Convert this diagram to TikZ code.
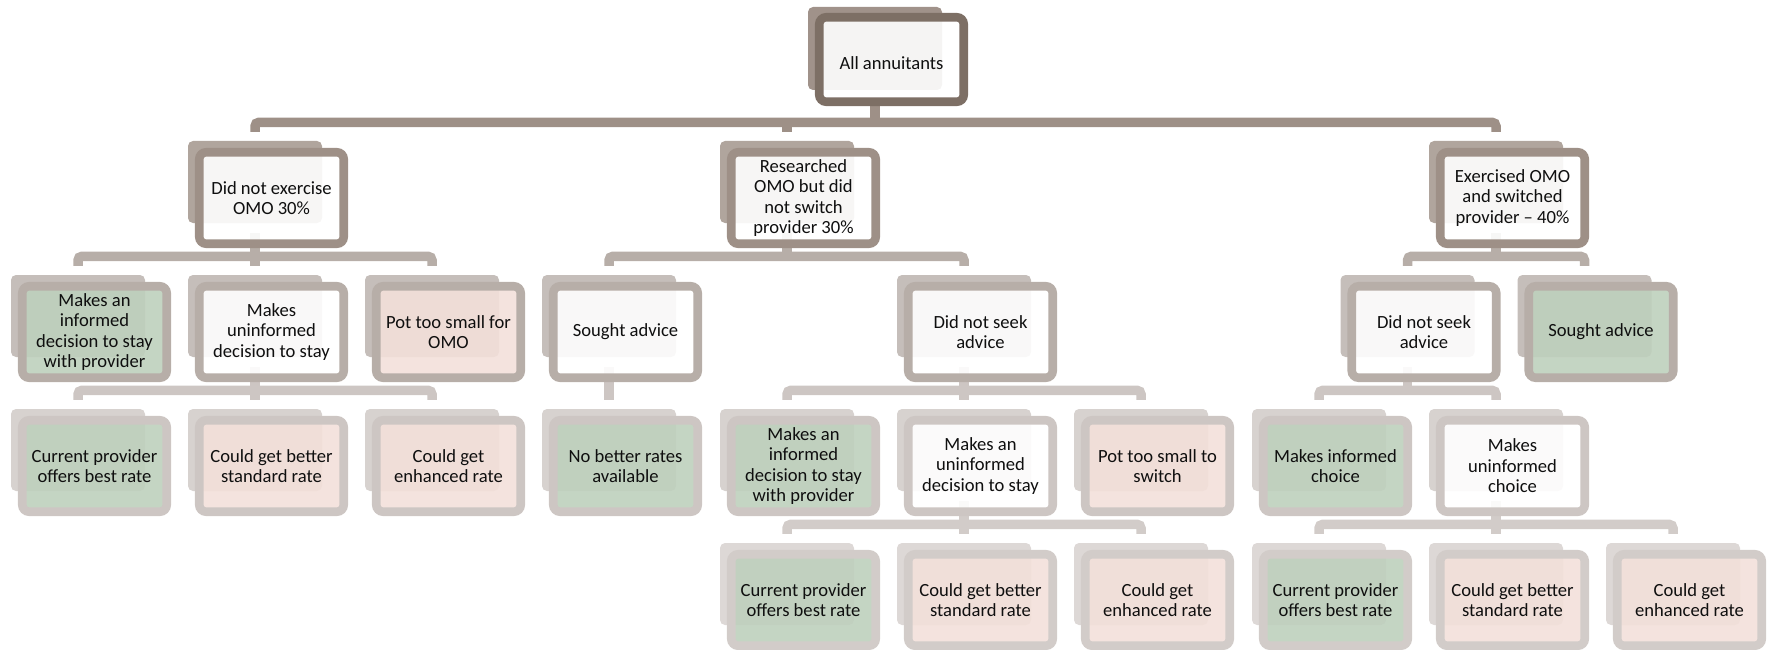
\documentclass[tikz,border=0pt]{standalone}
\usepackage{fontspec}
\setmainfont{Carlito}
\usetikzlibrary{calc,backgrounds}

% level colours: back plate (bk) and frame (fr)
\definecolor{bk0}{RGB}{160,146,138}
\definecolor{fr0}{RGB}{125,111,101}
\definecolor{bk1}{RGB}{176,165,157}
\definecolor{fr1}{RGB}{158,144,135}
\definecolor{bk2}{RGB}{197,190,186}
\definecolor{fr2}{RGB}{183,174,168}
\definecolor{bk3}{RGB}{215,210,207}
\definecolor{fr3}{RGB}{205,198,195}
\definecolor{bk4}{RGB}{221,216,214}
\definecolor{fr4}{RGB}{210,204,201}
\definecolor{fgreen}{RGB}{190,208,189}
\definecolor{fpink}{RGB}{243,224,218}
\definecolor{fwhite}{RGB}{255,255,255}
\definecolor{txt}{RGB}{15,15,15}

\tikzset{
  backbox/.style={rectangle, rounded corners=5pt, minimum width=134pt,
    minimum height=82pt, inner sep=0pt, draw=none},
  frontbox/.style={rectangle, rounded corners=7pt, minimum width=144.5pt,
    minimum height=91.5pt, inner sep=1pt, line width=8.6pt,
    fill opacity=0.9, draw opacity=1, text opacity=1, align=center,
    font=\fontsize{18.6}{20.5}\selectfont, text=txt},
  link/.style={line width=9.5pt, rounded corners=4pt},
}

% #1 name, #2 centre x, #3 top y, #4 level, #5 fill, #6 text
\newcommand\tbox[6]{%
  \node[backbox, fill=bk#4] (#1) at (#2, #3+41) {};
  \node[frontbox, draw=fr#4, fill=#5] (#1-f) at (#2+16.5, #3+57) {#6};
}
% bracket from a parent to its first and last children
\newcommand\family[4]{%
  \coordinate (#1-bar) at ($(#2.north)+(0,-18.5)$);
  \draw[link, draw=#4] ($(#2.north)+(0,-9)$) |- (#1-bar -| #3.north)
    -- ($(#3.north)+(0,-9)$);
  \draw[link, draw=#4] ($(#1.south)+(0,10)$) -- (#1.south |- #1-bar);
}
% extra leg from a parent's bar down to a middle child
\newcommand\midleg[3]{%
  \draw[link, draw=#3] (#2.north |- #1-bar) -- ($(#2.north)+(0,-9)$);
}

\begin{document}
\begin{tikzpicture}[x=1pt, y=-1pt]
\useasboundingbox (0,0) rectangle (1767,650);

% root
\node[backbox, fill=bk0, minimum height=83pt] (annu) at (875, 48.5) {};
\node[frontbox, draw=fr0, fill=fwhite, minimum height=84.5pt] (annu-f) at (891.5, 59.5)
  {\raisebox{-3.5pt}[\height][\depth]{All annuitants}};

% first level
\tbox{dne}{255}{141}{1}{fwhite}{Did not exercise\\OMO 30\%}
\tbox{res}{787}{141}{1}{fwhite}{Researched\\OMO but did\\not switch\\provider 30\%}
\tbox{exe}{1496}{141}{1}{fwhite}{Exercised OMO\\and switched\\provider \textendash{} 40\%}

% second level
\tbox{a1}{78}{275}{2}{fgreen}{Makes an\\informed\\decision to stay\\with provider}
\tbox{a2}{255}{275}{2}{fwhite}{Makes\\uninformed\\decision to stay}
\tbox{a3}{432}{275}{2}{fpink}{Pot too small for\\OMO}
\tbox{b1}{609}{275}{2}{fwhite}{Sought advice}
\tbox{b2}{964}{275}{2}{fwhite}{Did not seek\\advice}
\tbox{c1}{1407.5}{275}{2}{fwhite}{Did not seek\\advice}
\tbox{c2}{1584.5}{275}{2}{fgreen}{Sought advice}

% third level
\tbox{a21}{78}{409}{3}{fgreen}{Current provider\\offers best rate}
\tbox{a22}{255}{409}{3}{fpink}{Could get better\\standard rate}
\tbox{a23}{432}{409}{3}{fpink}{Could get\\enhanced rate}
\tbox{b11}{609}{409}{3}{fgreen}{No better rates\\available}
\tbox{b21}{787}{409}{3}{fgreen}{Makes an\\informed\\decision to stay\\with provider}
\tbox{b22}{964}{409}{3}{fwhite}{Makes an\\uninformed\\decision to stay}
\tbox{b23}{1141}{409}{3}{fpink}{Pot too small to\\switch}
\tbox{c11}{1319}{409}{3}{fgreen}{Makes informed\\choice}
\tbox{c12}{1496}{409}{3}{fwhite}{Makes\\uninformed\\choice}

% fourth level
\tbox{b221}{787}{543}{4}{fgreen}{Current provider\\offers best rate}
\tbox{b222}{964}{543}{4}{fpink}{Could get better\\standard rate}
\tbox{b223}{1141}{543}{4}{fpink}{Could get\\enhanced rate}
\tbox{c121}{1319}{543}{4}{fgreen}{Current provider\\offers best rate}
\tbox{c122}{1496}{543}{4}{fpink}{Could get better\\standard rate}
\tbox{c123}{1673}{543}{4}{fpink}{Could get\\enhanced rate}

% connectors, behind the boxes
\begin{pgfonlayer}{background}
  \family{annu}{dne}{exe}{fr1}
  \midleg{annu}{res}{fr1}

  \family{dne}{a1}{a3}{fr2}
  \midleg{dne}{a2}{fr2}
  \family{res}{b1}{b2}{fr2}
  \family{exe}{c1}{c2}{fr2}

  \family{a2}{a21}{a23}{fr3}
  \midleg{a2}{a22}{fr3}
  \draw[link, draw=fr3] ($(b1.south)+(0,10)$) -- ($(b11.north)+(0,-9)$);
  \family{b2}{b21}{b23}{fr3}
  \midleg{b2}{b22}{fr3}
  \family{c1}{c11}{c12}{fr3}

  \family{b22}{b221}{b223}{fr4}
  \midleg{b22}{b222}{fr4}
  \family{c12}{c121}{c123}{fr4}
  \midleg{c12}{c122}{fr4}
\end{pgfonlayer}
\end{tikzpicture}
\end{document}
